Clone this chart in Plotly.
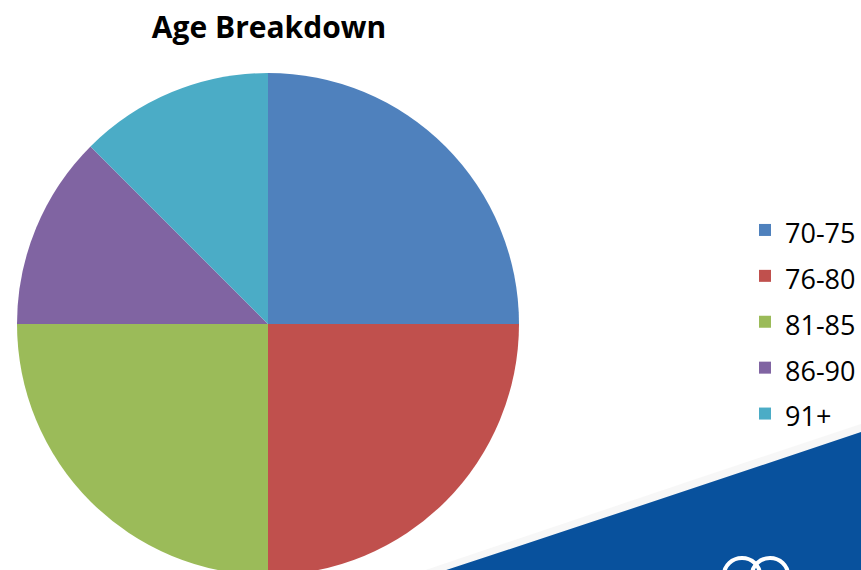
import plotly.graph_objects as go

categories = ["70-75", "76-80", "81-85", "86-90", "91+"]
values = [25, 25, 25, 12.5, 12.5]
colors = ["#4F81BD", "#C0504D", "#9BBB59", "#8064A2", "#4BACC6"]
title_text = "Age Breakdown"

W, H = 861, 577          # figure slightly taller than the 570 window -> pie is clipped at the bottom
cx, cy, r = 268, 324, 251  # pixel centre/radius (from top-left)

legend_labels = ['<span style="font-size:27px">' + c + '</span>' for c in categories]

fig = go.Figure()
fig.add_trace(go.Pie(
    labels=legend_labels, values=values, sort=False, direction="clockwise",
    rotation=0, textinfo="none", hoverinfo="percent",
    marker=dict(colors=colors, line=dict(width=0)),
    domain=dict(x=[(cx - r) / W, (cx + r) / W],
                y=[max(0, (H - cy - r) / H), min(1, (H - cy + r) / H)]),
))

# background swoosh (decoration)
def px(x, y):
    return f"{x / W:.4f},{1 - y / H:.4f}"

swoosh = ("M " + px(425, 577) + " Q " + px(650, 503) + " " + px(861, 432)
          + " L " + px(861, 577) + " Z")
shadow = ("M " + px(405, 577) + " Q " + px(645, 496) + " " + px(861, 424)
          + " L " + px(861, 577) + " Z")

fig.update_layout(
    width=W, height=H,
    margin=dict(l=0, r=0, t=0, b=0),
    paper_bgcolor="white", plot_bgcolor="white",
    font=dict(family="Open Sans, sans-serif", color="black"),
    title=dict(text="<b>" + title_text + "</b>", x=269 / W, xanchor="center",
               y=1 - 27 / H, yanchor="middle", font=dict(size=30, color="black")),
    showlegend=True,
    legend=dict(x=745 / W, xanchor="left", y=1 - 202 / H, yanchor="top",
                font=dict(size=33, color="black"), bgcolor="rgba(0,0,0,0)"),
    shapes=[
        dict(type="path", path=shadow, xref="paper", yref="paper",
             fillcolor="rgba(225,225,225,0.25)", line=dict(width=0), layer="below"),
        dict(type="path", path=swoosh, xref="paper", yref="paper",
             fillcolor="#08519D", line=dict(width=0), layer="below"),
        dict(type="circle", xref="paper", yref="paper",
             x0=724 / W, x1=760 / W, y0=1 - 592 / H, y1=1 - 558 / H,
             line=dict(color="white", width=4), fillcolor="rgba(0,0,0,0)"),
        dict(type="circle", xref="paper", yref="paper",
             x0=752 / W, x1=788 / W, y0=1 - 592 / H, y1=1 - 558 / H,
             line=dict(color="white", width=4), fillcolor="rgba(0,0,0,0)"),
    ],
)

fig.write_html(
    "out.html",
    config={"displayModeBar": False},
    post_script="document.body.style.margin='0';document.body.style.overflow='hidden';"
                "document.documentElement.style.overflow='hidden';",
)
